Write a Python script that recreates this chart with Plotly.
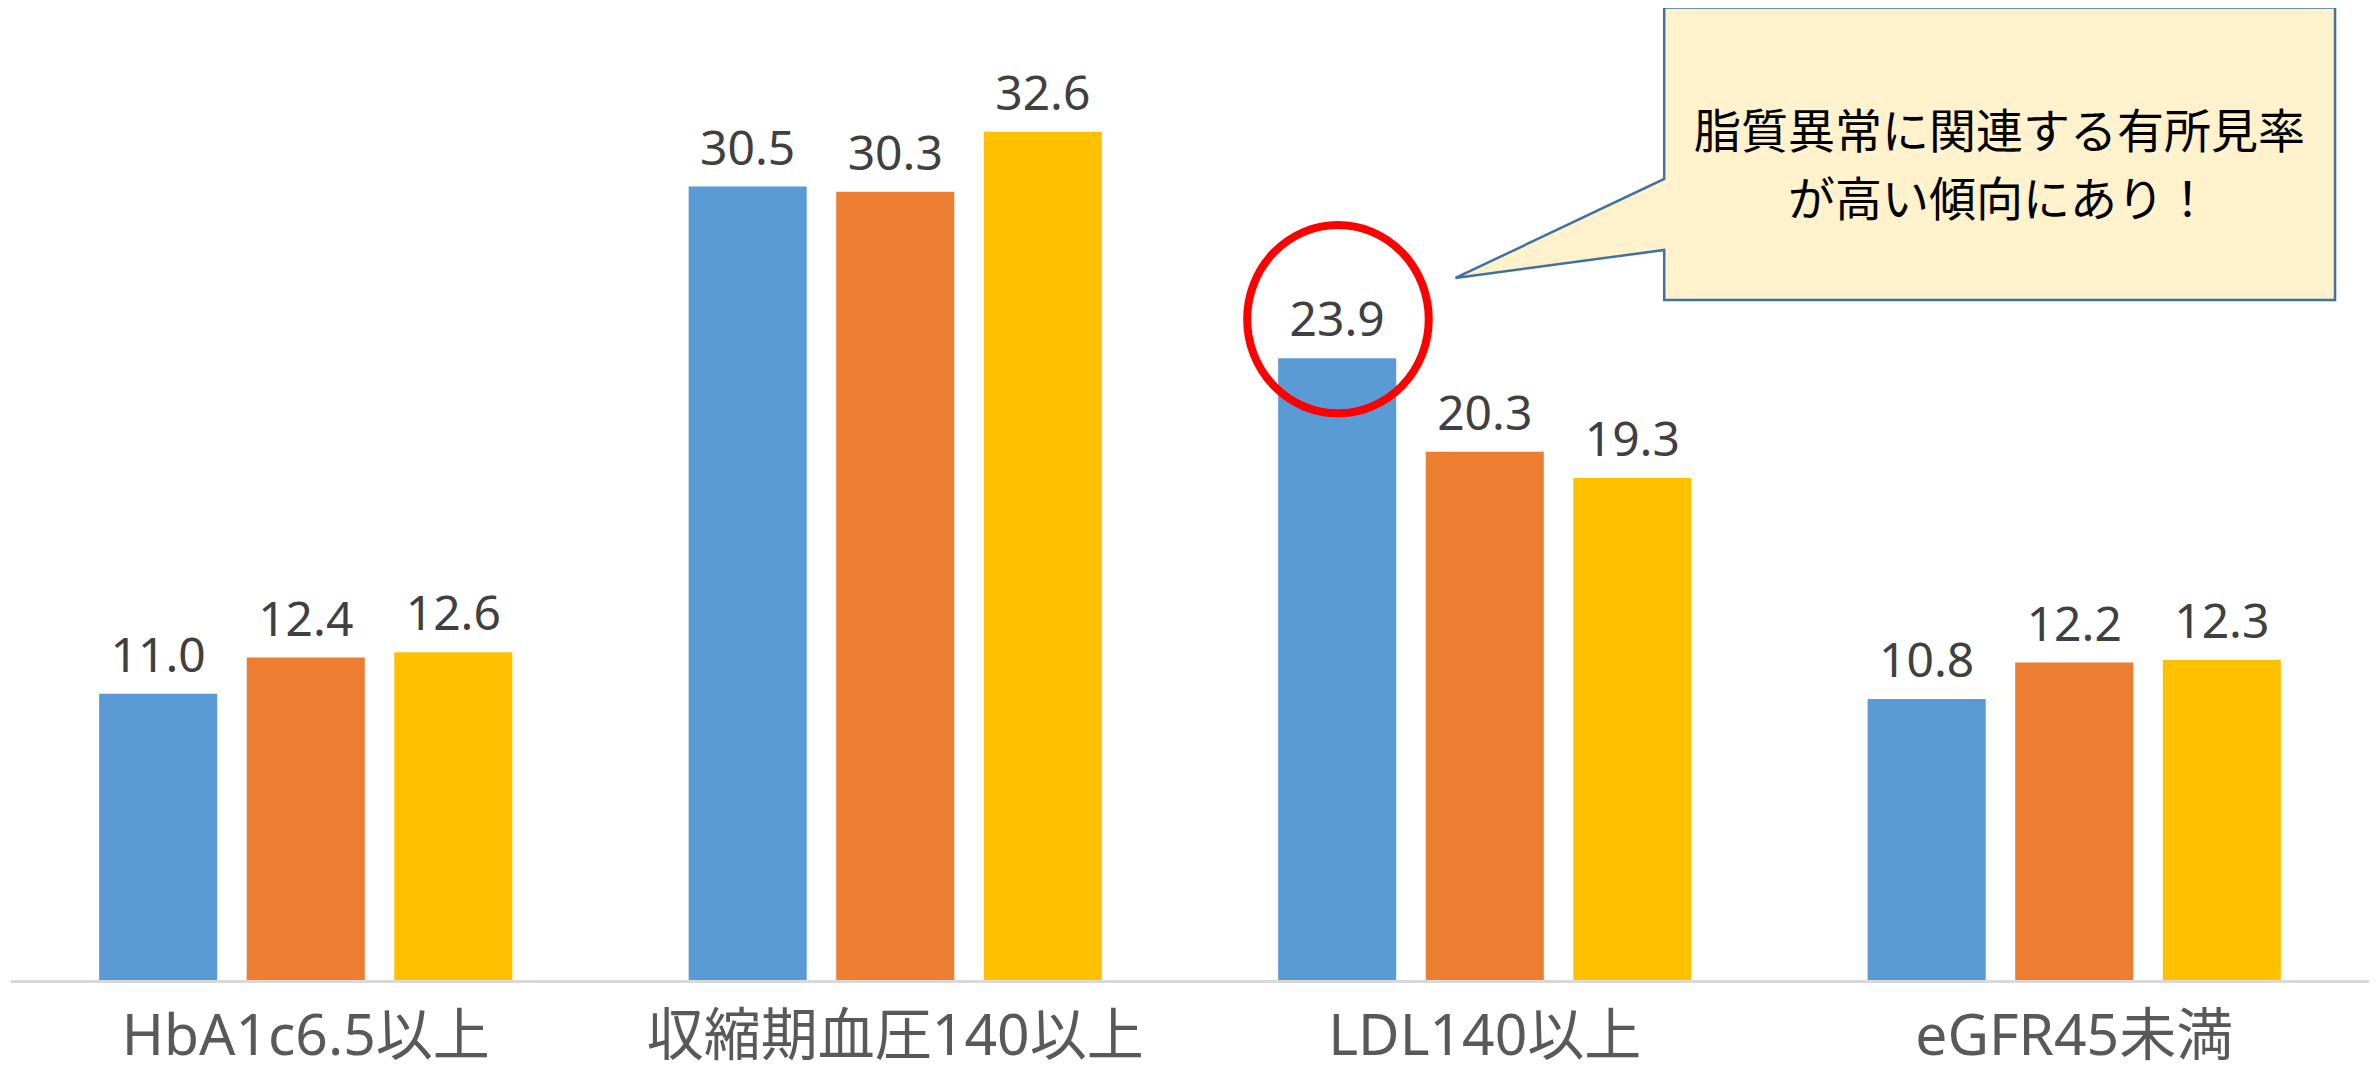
import plotly.graph_objects as go

categories = ["HbA1c6.5以上", "収縮期血圧140以上", "LDL140以上", "eGFR45未満"]
series_names = ["系列1", "系列2", "系列3"]
series1 = [11.0, 30.5, 23.9, 10.8]
series2 = [12.4, 30.3, 20.3, 12.2]
series3 = [12.6, 32.6, 19.3, 12.3]
colors = ["#5B9BD5", "#ED7D31", "#FFC000"]
callout_lines = ["脂質異常に関連する有所見率", "が高い傾向にあり！"]

# the page body has an 8px margin, so the figure is 8px smaller on each side
W, H = 2370, 1066
ML, MR, MT, MB = 3, 9, 12, 94
GAP = 0.249

fig = go.Figure()
for i, (name, vals) in enumerate(zip(series_names, [series1, series2, series3])):
    fig.add_trace(go.Bar(x=categories, y=vals, name=name, marker_color=colors[i],
                         marker_line_width=0, hoverinfo="skip"))
for i, (name, vals) in enumerate(zip(series_names, [series1, series2, series3])):
    fig.add_trace(go.Scatter(x=categories, y=vals, name=name + "ラベル", mode="markers+text",
                             text=[f"{v:.1f}" for v in vals], textposition="top center",
                             textfont=dict(size=48, color="#404040",
                                           family="Noto Sans, Noto Sans CJK JP"),
                             marker=dict(size=14, color="rgba(0,0,0,0)"),
                             cliponaxis=False, hoverinfo="skip"))

fig.update_layout(
    width=W, height=H,
    margin=dict(l=ML, r=MR, t=MT, b=MB, autoexpand=False),
    barmode="group", bargap=GAP, bargroupgap=0.2,
    scattermode="group", scattergap=GAP,
    plot_bgcolor="white", paper_bgcolor="white",
    showlegend=False,
    font=dict(family="Noto Sans, Noto Sans CJK JP"),
)
fig.update_xaxes(range=[-0.5, 3.5], autorange=False, showline=True, linecolor="#D9D9D9",
                 linewidth=3, ticks="", showgrid=False, ticklabelstandoff=4,
                 tickfont=dict(size=57, color="#595959",
                               family="Noto Sans, Noto Sans CJK JP"))
fig.update_yaxes(range=[0, 36.9], autorange=False, visible=False, showgrid=False)

# red ellipse highlighting LDL value
fig.add_shape(type="circle", xref="x", yref="y", x0=1.597, x1=1.905, y0=21.78, y1=29.02,
              line=dict(color="#FF0000", width=8), fillcolor="rgba(0,0,0,0)", layer="above")

# callout box
callout_path = ("M 0.7011,1.0129 L 0.9856,1.0129 L 0.9856,0.7083 L 0.7011,0.7083 "
                "L 0.7011,0.7604 L 0.6126,0.7313 L 0.7011,0.8344 Z")
fig.add_shape(type="path", xref="paper", yref="paper", path=callout_path,
              fillcolor="#FFF2CC", line=dict(color="#41719C", width=2.5), layer="above")
for line, yp in zip(callout_lines, [0.8885, 0.8167]):
    fig.add_annotation(xref="paper", yref="paper", x=0.8432, y=yp, text=line,
                       showarrow=False, align="center", xanchor="center", yanchor="middle",
                       borderpad=0,
                       font=dict(size=47, color="#000000", family="Noto Sans CJK JP"))

fig.write_html("out.html")
